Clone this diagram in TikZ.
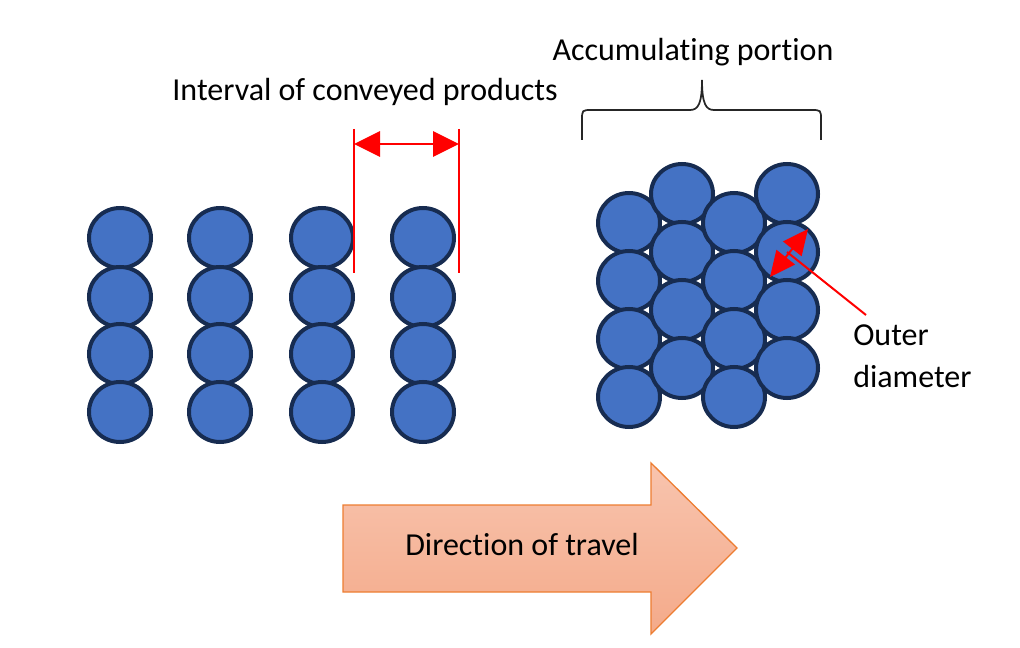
\documentclass[tikz,border=0pt]{standalone}
\usepackage{fontspec}
\setmainfont{Carlito}[Ligatures=NoCommon]
\usetikzlibrary{arrows.meta, shapes.geometric}

\definecolor{canfill}{HTML}{4472C4}
\definecolor{canedge}{HTML}{172C51}
\definecolor{arrowtop}{HTML}{F8C4AE}
\definecolor{arrowbot}{HTML}{F4AA8A}
\definecolor{arrowedge}{HTML}{ED7D31}

\tikzset{
  can/.style={ellipse, draw=canedge, fill=canfill, line width=3pt,
    minimum width=46.5pt, minimum height=45pt, inner sep=0pt},
  dimline/.style={red, line width=1.5pt},
  dimarrow/.style={dimline, {Triangle[length=19.5pt,width=19pt]}-{Triangle[length=19.5pt,width=19pt]}},
  diaarrow/.style={dimline, {Triangle[length=19pt,width=17.5pt]}-{Triangle[length=19pt,width=17.5pt]}},
  brace/.style={black!85, line width=1.3pt},
  bigarrow/.style={draw=arrowedge, line width=1pt, top color=arrowtop, bottom color=arrowbot},
  note/.style={font=\fontsize{24}{31}\selectfont, inner sep=0pt}
}

\begin{document}
\begin{tikzpicture}[x=0.75pt, y=-0.75pt]
  \useasboundingbox (0,0) rectangle (1020,648);

  % Products conveyed with an interval
  \foreach \col/\x in {1/120, 2/220, 3/322, 4/423}
    \foreach \row/\y in {1/238, 2/297, 3/354, 4/412}
      \node[can] (p-\col-\row) at (\x,\y) {};

  % Interval between two rows
  \coordinate (lt) at (354,129);
  \coordinate (lb) at (354,273);
  \coordinate (rt) at (459,129);
  \coordinate (rb) at (459,273);
  \draw[dimline] (lt) -- (lb);
  \draw[dimline] (rt) -- (rb);
  \coordinate (il) at (354,144);
  \coordinate (ir) at (459,144);
  \draw[dimarrow] (il) -- (ir);
  \node[note, anchor=base] (interval) at (365,101) {Interval of conveyed products};

  % Accumulated products, staggered
  \foreach \col/\x/\y in {1/629/223, 2/682/194, 3/734/223, 4/787/194}
    \foreach \row in {0,...,3}
      \node[can] (a-\col-\row) at (\x,{\y+58*\row}) {};

  % Brace over the accumulating portion
  \draw[brace] (582,140) -- (582,120) .. controls (582,110) .. (592,110)
    -- (690,110) .. controls (698,110) and (702,104) .. (702,80)
    .. controls (702,104) and (706,110) .. (714,110)
    -- (811,110) .. controls (821,110) .. (821,120) -- (821,140);
  \node[note, anchor=base] (accum) at (693,61) {Accumulating portion};

  % Outer diameter
  \coordinate (od1) at (770,277);
  \coordinate (od2) at (808,229);
  \coordinate (odend) at (866,315);
  \draw[dimline] (a-4-1.center) -- (odend);
  \draw[diaarrow] (od1) -- (od2);
  \node[note, anchor=base west, align=left] (outer) at (853,387) {Outer\\diameter};

  % Direction of travel
  \draw[bigarrow] (343,505) -- (651,505) -- (651,463) -- (737,548)
    -- (651,634) -- (651,592) -- (343,592) -- cycle;
  \node[note, anchor=base] (travel) at (522,555) {Direction of travel};
\end{tikzpicture}
\end{document}
